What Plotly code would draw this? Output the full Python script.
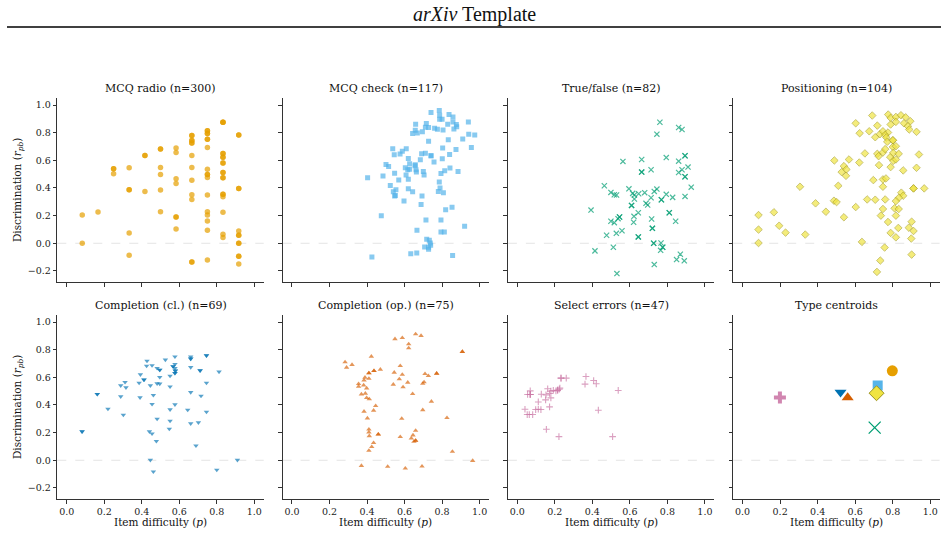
import plotly.graph_objects as go

# ---------------- data ----------------
panel_titles = ["MCQ radio (n=300)", "MCQ check (n=117)", "True/false (n=82)", "Positioning (n=104)",
                "Completion (cl.) (n=69)", "Completion (op.) (n=75)", "Select errors (n=47)", "Type centroids"]

mcq_radio_levels = [0.083, 0.167, 0.250, 0.333, 0.417, 0.500, 0.583, 0.667, 0.750, 0.833, 0.917]
mcq_radio_r_by_level = [
    [0.204, 0.000],
    [0.226],
    [0.539, 0.539, 0.503],
    [0.546, 0.387, 0.387, 0.075, -0.087],
    [0.635, 0.635, 0.375],
    [0.681, 0.681, 0.548, 0.498, 0.385, 0.228],
    [0.690, 0.657, 0.467, 0.433, 0.190, 0.190, 0.103],
    [0.779, 0.779, 0.743, 0.743, 0.726, 0.726, 0.635, 0.548, 0.455, 0.351, 0.317, -0.135, -0.135],
    [0.813, 0.813, 0.794, 0.794, 0.753, 0.753, 0.693, 0.536, 0.498, 0.498, 0.476, 0.349, 0.228, 0.204,
     0.161, 0.094, -0.120],
    [0.875, 0.875, 0.875, 0.649, 0.649, 0.623, 0.623, 0.580, 0.580, 0.512, 0.512, 0.474, 0.474, 0.354,
     0.354, 0.337, 0.224, 0.065, 0.041],
    [0.784, 0.784, 0.397, 0.397, 0.089, 0.058, 0.058, 0.000, 0.000, -0.094, -0.094, -0.149],
]

mcq_check_p = [0.741, 0.785, 0.837, 0.858, 0.787, 0.787, 0.800, 0.940, 0.659, 0.716, 0.830, 0.858, 0.876,
               0.711, 0.728, 0.760, 0.775, 0.805, 0.863, 0.878, 0.657, 0.643, 0.668, 0.695, 0.942, 0.974,
               0.910, 0.833, 0.728, 0.956, 0.803, 0.874, 0.537, 0.588, 0.609, 0.576, 0.545, 0.691, 0.711,
               0.741, 0.741, 0.840, 0.620, 0.684, 0.801, 0.757, 0.501, 0.515, 0.627, 0.657, 0.656, 0.604,
               0.627, 0.617, 0.661, 0.663, 0.700, 0.704, 0.814, 0.842, 0.885, 0.794, 0.547, 0.608, 0.485,
               0.403, 0.569, 0.620, 0.785, 0.524, 0.554, 0.789, 0.620, 0.540, 0.643, 0.780, 0.807, 0.551,
               0.547, 0.693, 0.597, 0.688, 0.853, 0.819, 0.476, 0.714, 0.794, 0.920, 0.666, 0.794, 0.812,
               0.718, 0.732, 0.737, 0.739, 0.707, 0.728, 0.728, 0.665, 0.633, 0.426, 0.856]
mcq_check_r = [0.945, 0.960, 0.931, 0.914, 0.926, 0.897, 0.897, 0.878, 0.861, 0.866, 0.861, 0.878, 0.859,
               0.839, 0.837, 0.832, 0.825, 0.820, 0.827, 0.842, 0.818, 0.794, 0.798, 0.806, 0.789, 0.784,
               0.755, 0.748, 0.738, 0.693, 0.690, 0.678, 0.683, 0.666, 0.683, 0.645, 0.640, 0.647, 0.652,
               0.633, 0.633, 0.642, 0.613, 0.604, 0.611, 0.587, 0.570, 0.556, 0.575, 0.568, 0.560, 0.546,
               0.536, 0.532, 0.532, 0.515, 0.519, 0.493, 0.524, 0.544, 0.519, 0.505, 0.507, 0.493, 0.486,
               0.474, 0.457, 0.464, 0.443, 0.418, 0.387, 0.399, 0.394, 0.373, 0.373, 0.375, 0.366, 0.346,
               0.342, 0.342, 0.305, 0.281, 0.260, 0.243, 0.200, 0.168, 0.168, 0.123, 0.094, 0.082, 0.082,
               0.029, 0.022, 0.002, -0.014, -0.026, -0.029, -0.043, -0.070, -0.075, -0.099, -0.089]

true_false_p = [0.760, 0.860, 0.878, 0.744, 0.894, 0.894, 0.794, 0.860, 0.663, 0.563, 0.910, 0.878, 0.860,
                0.663, 0.663, 0.713, 0.894, 0.894, 0.927, 0.464, 0.499, 0.517, 0.529, 0.595, 0.615, 0.624,
                0.624, 0.647, 0.679, 0.713, 0.730, 0.744, 0.768, 0.768, 0.794, 0.828, 0.894, 0.609, 0.609,
                0.686, 0.695, 0.393, 0.645, 0.810, 0.810, 0.622, 0.716, 0.545, 0.545, 0.537, 0.499, 0.517,
                0.844, 0.620, 0.720, 0.720, 0.558, 0.528, 0.476, 0.645, 0.645, 0.727, 0.727, 0.766, 0.512,
                0.414, 0.775, 0.775, 0.764, 0.869, 0.849, 0.890, 0.730, 0.531]
true_false_r = [0.875, 0.837, 0.823, 0.789, 0.633, 0.633, 0.620, 0.594, 0.606, 0.592, 0.551, 0.532, 0.512,
                0.515, 0.515, 0.532, 0.481, 0.481, 0.406, 0.416, 0.368, 0.351, 0.349, 0.394, 0.361, 0.349,
                0.320, 0.358, 0.366, 0.329, 0.375, 0.392, 0.315, 0.315, 0.354, 0.332, 0.339, 0.274, 0.274,
                0.289, 0.277, 0.240, 0.221, 0.221, 0.221, 0.195, 0.176, 0.190, 0.190, 0.178, 0.159, 0.149,
                0.159, 0.152, 0.108, 0.108, 0.091, 0.072, 0.058, 0.046, 0.046, 0.000, 0.000, 0.002, -0.029,
                -0.055, -0.029, -0.029, -0.051, -0.079, -0.118, -0.127, -0.154, -0.219]

positioning_p = [0.085, 0.085, 0.085, 0.167, 0.195, 0.229, 0.334, 0.306, 0.389, 0.444, 0.489, 0.510, 0.487,
                 0.501, 0.540, 0.540, 0.553, 0.528, 0.551, 0.567, 0.603, 0.624, 0.622, 0.603, 0.636, 0.652,
                 0.664, 0.675, 0.691, 0.718, 0.707, 0.732, 0.748, 0.775, 0.760, 0.766, 0.771, 0.718, 0.725,
                 0.748, 0.760, 0.727, 0.697, 0.748, 0.764, 0.748, 0.707, 0.760, 0.748, 0.737, 0.775, 0.789,
                 0.757, 0.734, 0.716, 0.776, 0.789, 0.817, 0.844, 0.869, 0.894, 0.817, 0.860, 0.881, 0.888,
                 0.927, 0.789, 0.801, 0.801, 0.801, 0.817, 0.787, 0.803, 0.803, 0.817, 0.832, 0.789, 0.856,
                 0.940, 0.927, 0.911, 0.911, 0.968, 0.846, 0.856, 0.833, 0.817, 0.810, 0.832, 0.817, 0.830,
                 0.817, 0.886, 0.901, 0.911, 0.899, 0.901]
positioning_r = [0.204, 0.099, 0.002, 0.224, 0.127, 0.077, 0.063, 0.409, 0.289, 0.228, 0.599, 0.416, 0.308,
                 0.298, 0.188, 0.558, 0.534, 0.515, 0.488, 0.606, 0.868, 0.796, 0.584, 0.262, 0.010, 0.650,
                 0.317, 0.810, 0.924, 0.851, 0.767, 0.789, 0.810, 0.801, 0.784, 0.765, 0.734, 0.647, 0.630,
                 0.657, 0.681, 0.565, 0.457, 0.462, 0.469, 0.409, 0.315, 0.317, 0.248, 0.200, 0.154, 0.075,
                 -0.031, -0.125, -0.207, 0.931, 0.907, 0.914, 0.926, 0.911, 0.883, 0.878, 0.868, 0.847, 0.823,
                 0.806, 0.859, 0.745, 0.745, 0.697, 0.702, 0.623, 0.654, 0.596, 0.606, 0.647, 0.551, 0.527,
                 0.642, 0.546, 0.397, 0.397, 0.397, 0.366, 0.344, 0.329, 0.305, 0.253, 0.248, 0.200, 0.111,
                 0.043, 0.113, 0.156, 0.089, 0.034, -0.082]

completion_cl_p = [0.082, 0.082, 0.163, 0.163, 0.220, 0.288, 0.311, 0.316, 0.288, 0.302, 0.393, 0.386,
                   0.412, 0.412, 0.391, 0.428, 0.426, 0.455, 0.446, 0.462, 0.455, 0.482, 0.496, 0.496,
                   0.496, 0.482, 0.496, 0.482, 0.441, 0.455, 0.478, 0.446, 0.462, 0.526, 0.551, 0.551,
                   0.551, 0.551, 0.547, 0.577, 0.567, 0.567, 0.577, 0.577, 0.579, 0.579, 0.577, 0.577,
                   0.577, 0.661, 0.661, 0.661, 0.661, 0.661, 0.645, 0.661, 0.702, 0.711, 0.711, 0.716,
                   0.689, 0.745, 0.745, 0.745, 0.745, 0.812, 0.800, 0.910]
completion_cl_r = [0.208, 0.208, 0.478, 0.478, 0.372, 0.541, 0.565, 0.526, 0.461, 0.328, 0.620, 0.560,
                   0.582, 0.582, 0.454, 0.719, 0.683, 0.686, 0.541, 0.471, 0.406, 0.666, 0.654, 0.654,
                   0.601, 0.555, 0.553, 0.299, 0.208, 0.193, 0.138, 0.002, -0.082, 0.727, 0.610, 0.533,
                   0.367, 0.285, 0.227, 0.749, 0.679, 0.679, 0.695, 0.666, 0.647, 0.647, 0.630, 0.630,
                   0.403, 0.749, 0.734, 0.734, 0.673, 0.492, 0.364, 0.266, 0.273, 0.649, 0.649, 0.466,
                   0.106, 0.758, 0.758, 0.560, 0.350, 0.640, -0.070, 0.002]

completion_op_p = [0.549, 0.588, 0.659, 0.688, 0.622, 0.622, 0.908, 0.908, 0.423, 0.283, 0.320, 0.291,
                   0.577, 0.410, 0.410, 0.437, 0.437, 0.471, 0.545, 0.588, 0.572, 0.709, 0.727, 0.771,
                   0.771, 0.389, 0.410, 0.384, 0.617, 0.704, 0.697, 0.355, 0.355, 0.382, 0.398, 0.540,
                   0.592, 0.370, 0.391, 0.398, 0.412, 0.643, 0.743, 0.446, 0.435, 0.384, 0.697, 0.402,
                   0.585, 0.826, 0.410, 0.410, 0.412, 0.460, 0.460, 0.435, 0.425, 0.410, 0.577, 0.659,
                   0.645, 0.636, 0.650, 0.659, 0.659, 0.855, 0.963, 0.370, 0.510, 0.604, 0.693]
completion_op_r = [0.877, 0.886, 0.913, 0.901, 0.840, 0.811, 0.785, 0.785, 0.751, 0.710, 0.691, 0.671,
                   0.683, 0.630, 0.630, 0.647, 0.647, 0.657, 0.635, 0.620, 0.587, 0.625, 0.611, 0.628,
                   0.628, 0.599, 0.591, 0.579, 0.563, 0.565, 0.555, 0.553, 0.534, 0.543, 0.521, 0.548,
                   0.529, 0.478, 0.483, 0.451, 0.442, 0.480, 0.425, 0.394, 0.360, 0.353, 0.364, 0.304,
                   0.302, 0.307, 0.224, 0.203, 0.176, 0.188, 0.188, 0.126, 0.097, 0.070, 0.169, 0.215,
                   0.181, 0.159, 0.135, 0.142, 0.142, 0.063, -0.003, -0.039, -0.046, -0.058, -0.044]

select_errors_p = [0.041, 0.053, 0.064, 0.082, 0.055, 0.069, 0.069, 0.069, 0.069, 0.098, 0.112, 0.126,
                   0.112, 0.128, 0.151, 0.153, 0.162, 0.172, 0.179, 0.179, 0.192, 0.206, 0.215, 0.215,
                   0.224, 0.227, 0.172, 0.155, 0.222, 0.233, 0.233, 0.261, 0.366, 0.361, 0.407, 0.421,
                   0.432, 0.538, 0.508]
select_errors_r = [0.369, 0.331, 0.331, 0.331, 0.476, 0.476, 0.476, 0.502, 0.476, 0.367, 0.369, 0.367,
                   0.422, 0.478, 0.437, 0.473, 0.517, 0.483, 0.500, 0.451, 0.505, 0.502, 0.507, 0.507,
                   0.514, 0.522, 0.386, 0.224, 0.171, 0.594, 0.594, 0.594, 0.606, 0.551, 0.577, 0.553,
                   0.362, 0.505, 0.171]

centroid_p = [0.798, 0.720, 0.704, 0.714, 0.522, 0.560, 0.199]
centroid_r = [0.647, 0.541, 0.236, 0.485, 0.492, 0.454, 0.454]

x_tick_vals = [0.0, 0.2, 0.4, 0.6, 0.8, 1.0]
y_tick_vals = [-0.2, 0.0, 0.2, 0.4, 0.6, 0.8, 1.0]

# ---------------- styling ----------------
ORANGE, SKY, GREEN, YELLOW, BLUE, VERM, PINK = ("#E69F00", "#56B4E9", "#009E73", "#F0E442",
                                                 "#0072B2", "#D55E00", "#CC79A7")
SERIF = "DejaVu Serif"
W, H = 948, 536
col_px = [(57.3, 263.7), (282.6, 489.0), (507.9, 714.3), (733.2, 939.6)]
row_px = [(98.1, 282.0), (315.1, 499.0)]

mcq_radio_p, mcq_radio_r = [], []
for lv, rs in zip(mcq_radio_levels, mcq_radio_r_by_level):
    mcq_radio_p += [lv] * len(rs)
    mcq_radio_r += rs

series = [
    (mcq_radio_p, mcq_radio_r, dict(symbol="circle", size=5.5, color=ORANGE, opacity=0.7, line=dict(width=0))),
    (mcq_check_p, mcq_check_r, dict(symbol="square", size=5, color=SKY, opacity=0.7, line=dict(width=0))),
    (true_false_p, true_false_r, dict(symbol="x-thin", size=5.2, color=GREEN, opacity=0.7,
                                      line=dict(width=1.2, color=GREEN))),
    (positioning_p, positioning_r, dict(symbol="diamond", size=5.8, color=YELLOW, opacity=0.7,
                                        line=dict(width=0.8, color="#a39b1e"))),
    (completion_cl_p, completion_cl_r, dict(symbol="triangle-down", size=4.8, color=BLUE, opacity=0.65,
                                            line=dict(width=0))),
    (completion_op_p, completion_op_r, dict(symbol="triangle-up", size=4.8, color=VERM, opacity=0.65,
                                            line=dict(width=0))),
    (select_errors_p, select_errors_r, dict(symbol="cross-thin", size=4.8, color=PINK, opacity=0.7,
                                            line=dict(width=1.1, color=PINK))),
]

fig = go.Figure()
layout = dict(width=W, height=H, margin=dict(l=0, r=0, t=0, b=0), paper_bgcolor="white",
              plot_bgcolor="white", showlegend=False, shapes=[], annotations=[])

for i, (px, ry, mk) in enumerate(series):
    k = i + 1
    fig.add_trace(go.Scatter(x=px, y=ry, mode="markers", marker=mk, xaxis=f"x{k}", yaxis=f"y{k}",
                             hoverinfo="skip"))

# centroids panel
centroid_styles = [
    dict(symbol="circle", size=11, color=ORANGE, line=dict(width=0)),
    dict(symbol="square", size=10, color=SKY, line=dict(width=0)),
    dict(symbol="x-thin", size=12, color=GREEN, line=dict(width=1.3, color=GREEN)),
    dict(symbol="diamond", size=11.5, color=YELLOW, line=dict(width=1, color="#9c9420")),
    dict(symbol="triangle-down", size=10.5, color=BLUE, line=dict(width=0)),
    dict(symbol="triangle-up", size=10.5, color=VERM, line=dict(width=0)),
    dict(symbol="cross", size=10, color=PINK, opacity=0.9, line=dict(width=0)),
]
for j, st in enumerate(centroid_styles):
    fig.add_trace(go.Scatter(x=[centroid_p[j]], y=[centroid_r[j]], mode="markers", marker=st,
                             xaxis="x8", yaxis="y8", hoverinfo="skip"))

def fmt(v):
    s = f"{v:.1f}"
    return s.replace("-", "\u2212")

for i in range(8):
    k = i + 1
    r, c = divmod(i, 4)
    x0, x1 = col_px[c]
    y0, y1 = row_px[r]
    sfx = "" if k == 1 else str(k)
    common = dict(showline=True, linecolor="#333333", linewidth=1, ticks="outside", ticklen=3.5,
                  tickwidth=0.8, tickcolor="#333333", showgrid=False, zeroline=False, mirror=False,
                  automargin=False, tickfont=dict(family=SERIF, size=9.5, color="#222222"),
                  fixedrange=True)
    layout[f"xaxis{sfx}"] = dict(domain=[x0 / W, x1 / W], range=[-0.05, 1.05], anchor=f"y{sfx}",
                                 tickvals=x_tick_vals, ticktext=[fmt(v) for v in x_tick_vals],
                                 showticklabels=(r == 1), **common)
    layout[f"yaxis{sfx}"] = dict(domain=[1 - y1 / H, 1 - y0 / H], range=[-0.28, 1.05], anchor=f"x{sfx}",
                                 tickvals=y_tick_vals, ticktext=[fmt(v) for v in y_tick_vals],
                                 showticklabels=(c == 0), **common)
    layout["shapes"].append(dict(type="line", xref=f"x{sfx} domain", yref=f"y{sfx}", x0=0, x1=1, y0=0, y1=0,
                                 line=dict(color="#dddddd", width=0.8, dash="dash"), layer="below"))
    layout["annotations"].append(dict(text=panel_titles[i], x=(x0 + x1) / 2 / W, y=1 - (y0 - 10) / H,
                                      xref="paper", yref="paper", showarrow=False, xanchor="center",
                                      yanchor="middle", font=dict(family=SERIF, size=11, color="#111111")))
    if r == 1:
        layout["annotations"].append(dict(text="Item difficulty (<i>p</i>)", x=(x0 + x1) / 2 / W,
                                          y=1 - 522 / H, xref="paper", yref="paper", showarrow=False,
                                          xanchor="center", yanchor="middle",
                                          font=dict(family=SERIF, size=10.5, color="#111111")))
    if c == 0:
        layout["annotations"].append(dict(text="Discrimination (<i>r</i><sub><i>pb</i></sub>)", x=18 / W,
                                          y=1 - (y0 + y1) / 2 / H, xref="paper", yref="paper",
                                          showarrow=False, textangle=-90, xanchor="center", yanchor="middle",
                                          font=dict(family=SERIF, size=10.5, color="#111111")))

layout["annotations"].append(dict(text="<i>arXiv</i> Template", x=0.5, y=1 - 14 / H, xref="paper",
                                  yref="paper", showarrow=False, xanchor="center", yanchor="middle",
                                  font=dict(family="Liberation Serif", size=20, color="#111111")))
layout["shapes"].append(dict(type="line", xref="paper", yref="paper", x0=7 / W, x1=941 / W,
                             y0=1 - 27 / H, y1=1 - 27 / H, line=dict(color="black", width=1.3)))

fig.update_layout(**layout)
fig.write_html("out.html")
